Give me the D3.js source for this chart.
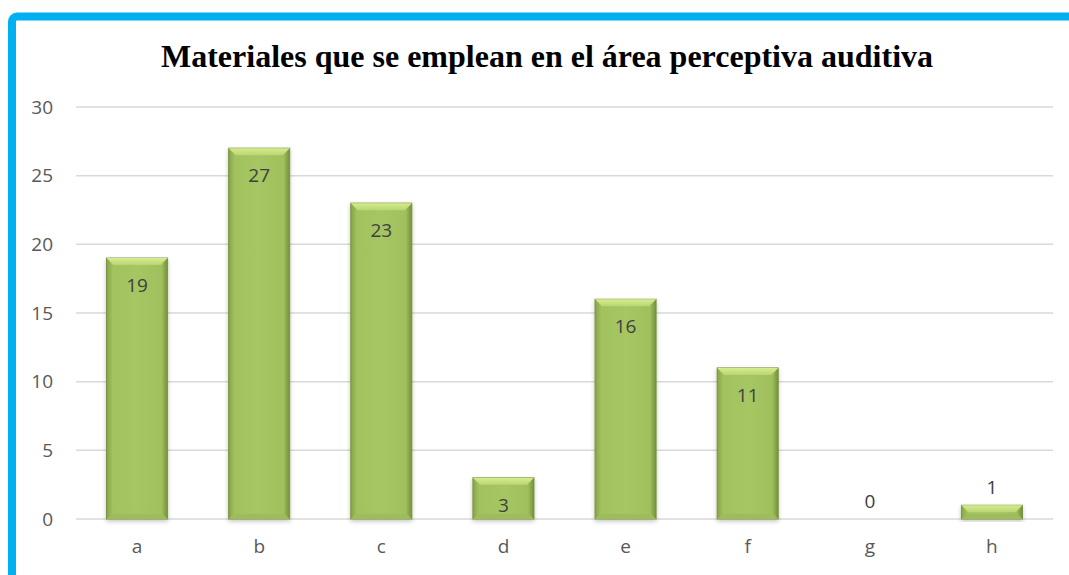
<!DOCTYPE html>
<html>
<head>
<meta charset="utf-8">
<script src="https://cdn.jsdelivr.net/npm/d3@7"></script>
<style>
  body { margin: 0; background: #fff; }
  svg { display: block; }
</style>
</head>
<body>
<svg id="chart"></svg>
<script>
var categories = ["a", "b", "c", "d", "e", "f", "g", "h"];
var values = [19, 27, 23, 3, 16, 11, 0, 1];
var yTicks = [0, 5, 10, 15, 20, 25, 30];
var title = "Materiales que se emplean en el área perceptiva auditiva";

var svg = d3.select("#chart")
    .attr("width", 1069)
    .attr("height", 575);

// blue frame, cut off on the right and bottom
svg.append("rect")
    .attr("x", 12)
    .attr("y", 16.5)
    .attr("width", 1100)
    .attr("height", 600)
    .attr("rx", 5)
    .attr("fill", "#fff")
    .attr("stroke", "#00b0f0")
    .attr("stroke-width", 8);

var defs = svg.append("defs");
var grad = defs.append("linearGradient")
    .attr("id", "barGrad")
    .attr("x1", "0").attr("x2", "1").attr("y1", "0").attr("y2", "0");
grad.append("stop").attr("offset", "0").attr("stop-color", "#86a34a");
grad.append("stop").attr("offset", "0.1").attr("stop-color", "#a2c25f");
grad.append("stop").attr("offset", "0.5").attr("stop-color", "#a6c664");
grad.append("stop").attr("offset", "0.9").attr("stop-color", "#a0c05d");
grad.append("stop").attr("offset", "1").attr("stop-color", "#738f3d");

var topGrad = defs.append("linearGradient")
    .attr("id", "topGrad")
    .attr("x1", "0").attr("x2", "0").attr("y1", "0").attr("y2", "1");
topGrad.append("stop").attr("offset", "0").attr("stop-color", "#d6ec90");
topGrad.append("stop").attr("offset", "1").attr("stop-color", "#b9d670");

var filter = defs.append("filter").attr("id", "shadow")
    .attr("x", "-20%").attr("y", "-10%").attr("width", "140%").attr("height", "130%");
filter.append("feDropShadow")
    .attr("dx", 0).attr("dy", 2).attr("stdDeviation", 2)
    .attr("flood-color", "#000").attr("flood-opacity", 0.22);

svg.append("text")
    .attr("x", 547)
    .attr("y", 67)
    .attr("text-anchor", "middle")
    .attr("font-family", "'Liberation Serif', 'Times New Roman', serif")
    .attr("font-weight", "bold")
    .attr("font-size", 32)
    .attr("fill", "#000")
    .text(title);

var g = svg.append("g").attr("transform", "translate(76,0)");

var x = d3.scaleBand().domain(categories).range([0, 977]).paddingInner(0.5).paddingOuter(0.25);
var y = d3.scaleLinear().domain([0, 30]).range([519, 107]);

// grid lines
g.selectAll(".grid")
    .data(yTicks)
    .enter().append("line")
    .attr("class", "grid")
    .attr("x1", 0)
    .attr("x2", 977)
    .attr("y1", d => y(d))
    .attr("y2", d => y(d))
    .attr("stroke", "#d9d9d9")
    .attr("stroke-width", 1.5);

var yAxis = g.append("g")
    .call(d3.axisLeft(y).tickValues(yTicks).tickSize(0).tickPadding(23));
yAxis.select(".domain").remove();
yAxis.selectAll("text")
    .attr("font-family", "'Open Sans', sans-serif")
    .attr("font-size", 19)
    .attr("fill", "#595959");

var xAxis = g.append("g")
    .attr("transform", "translate(0,519)")
    .call(d3.axisBottom(x).tickSize(0).tickPadding(21));
xAxis.select(".domain").remove();
xAxis.selectAll("text")
    .attr("font-family", "'Open Sans', sans-serif")
    .attr("font-size", 19)
    .attr("fill", "#595959");

var bars = g.selectAll(".bar")
    .data(categories.map((c, i) => ({cat: c, val: values[i]})).filter(d => d.val > 0))
    .enter().append("g")
    .attr("class", "bar");

bars.append("rect")
    .attr("x", d => x(d.cat))
    .attr("y", d => y(d.val))
    .attr("width", x.bandwidth())
    .attr("height", d => y(0) - y(d.val))
    .attr("fill", "url(#barGrad)")
    .attr("stroke", "#7a9440")
    .attr("stroke-width", 1)
    .attr("filter", "url(#shadow)");

// top bevel
bars.append("path")
    .attr("d", d => {
        var x0 = x(d.cat), x1 = x0 + x.bandwidth(), t = y(d.val);
        var h = Math.min(7, (y(0) - t) / 2);
        return "M" + x0 + "," + t + "L" + x1 + "," + t + "L" + (x1 - h) + "," + (t + h) +
            "L" + (x0 + h) + "," + (t + h) + "Z";
    })
    .attr("fill", "url(#topGrad)");

// bottom bevel
bars.append("path")
    .attr("d", d => {
        var x0 = x(d.cat), x1 = x0 + x.bandwidth(), b = y(0);
        var h = Math.min(5, (y(0) - y(d.val)) / 2);
        return "M" + x0 + "," + b + "L" + x1 + "," + b + "L" + (x1 - h) + "," + (b - h) +
            "L" + (x0 + h) + "," + (b - h) + "Z";
    })
    .attr("fill", "#9dbc5a");

// value labels
g.selectAll(".label")
    .data(categories.map((c, i) => ({cat: c, val: values[i]})))
    .enter().append("text")
    .attr("class", "label")
    .attr("x", d => x(d.cat) + x.bandwidth() / 2)
    .attr("y", d => d.val >= 3 ? y(d.val) + 34 : y(d.val) - 11)
    .attr("text-anchor", "middle")
    .attr("font-family", "'Open Sans', sans-serif")
    .attr("font-size", 19)
    .attr("fill", "#404040")
    .text(d => d.val);
</script>
</body>
</html>
